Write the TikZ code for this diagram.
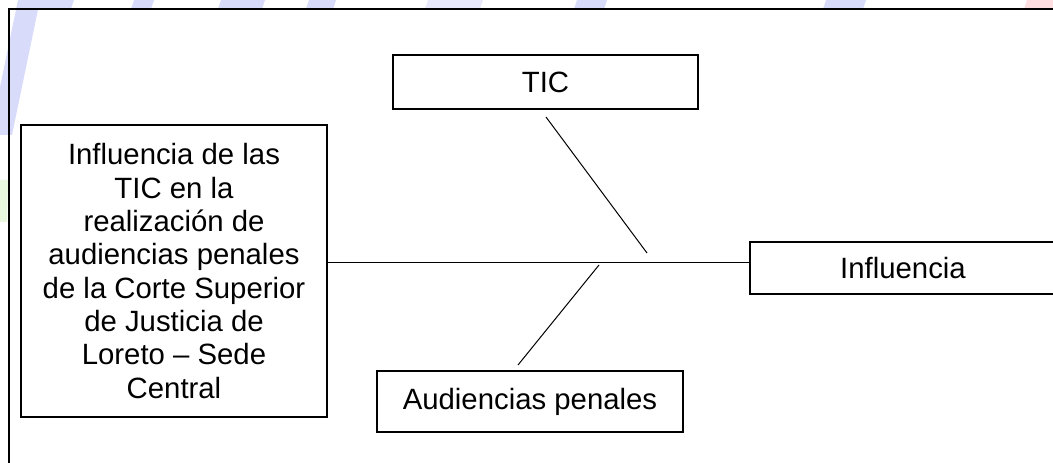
\documentclass[tikz,border=0pt]{standalone}
\usepackage{fontspec}
\setmainfont{Liberation Sans}
\usepackage{tikz}

\begin{document}
\begin{tikzpicture}[x=0.75pt,y=0.75pt,yscale=-1,xscale=1,
  caja/.style={draw, line width=1.9pt, fill=white, inner sep=0pt, align=center, font=\fontsize{22}{25}\selectfont},
  rama/.style={line width=0.75pt},
  marco/.style={line width=1.9pt}]
\useasboundingbox (0,0) rectangle (1053,463);
\clip (0,0) rectangle (1053,463);

%Shape: Watermark (left)
\fill [color={rgb, 255:red, 216; green, 220; blue, 250 }] (18,0) -- (40,0) -- (12,135) -- (-10,135) -- cycle ;
\fill [color={rgb, 255:red, 232; green, 248; blue, 222 }] (0,180) -- (8,180) -- (7,222) -- (0,222) -- cycle ;
%Shape: Watermark (top)
\foreach \a/\b in {27/74,134/154,221/265,309/336,577/607,826/866}
  \fill [color={rgb, 255:red, 216; green, 220; blue, 250 }] (\a,0) -- (\b,0) -- (\b-3,9) -- (\a-3,9) -- cycle ;
\fill [color={rgb, 255:red, 232; green, 234; blue, 252 }] (428,0) -- (483,0) -- (480,9) -- (425,9) -- cycle ;
\fill [color={rgb, 255:red, 255; green, 222; blue, 226 }] (1027,0) -- (1053,0) -- (1053,9) -- (1024,9) -- cycle ;

%Straight Lines: frame
\draw [marco]  (9,470) -- (9,9) -- (1060,9) ;

% Text Node
\node (problema) at (174,271) [caja, minimum width=229.5pt, minimum height=219pt]
  {Influencia de las\\TIC en la\\realización de\\audiencias penales\\de la Corte Superior\\de Justicia de\\Loreto – Sede\\Central};
% Text Node
\node (tic) at (545.5,82) [caja, minimum width=228.75pt, minimum height=40.5pt] {TIC};
% Text Node
\node (influencia) at (903,268) [caja, minimum width=229.5pt, minimum height=39pt] {Influencia};
% Text Node
\node (audiencias) at (530,401.5) [caja, minimum width=229.5pt, minimum height=45.75pt] {Audiencias penales};

%Straight Lines
\draw [rama]  (problema.east |- 0,263) -- (influencia.west |- 0,263) ;
%Straight Lines
\coordinate (ticA) at (546,117) ;
\coordinate (ticB) at (647,253) ;
\draw [rama]  (ticA) -- (ticB) ;
%Straight Lines
\coordinate (audA) at (599,265) ;
\coordinate (audB) at (518,365) ;
\draw [rama]  (audA) -- (audB) ;

\end{tikzpicture}
\end{document}
